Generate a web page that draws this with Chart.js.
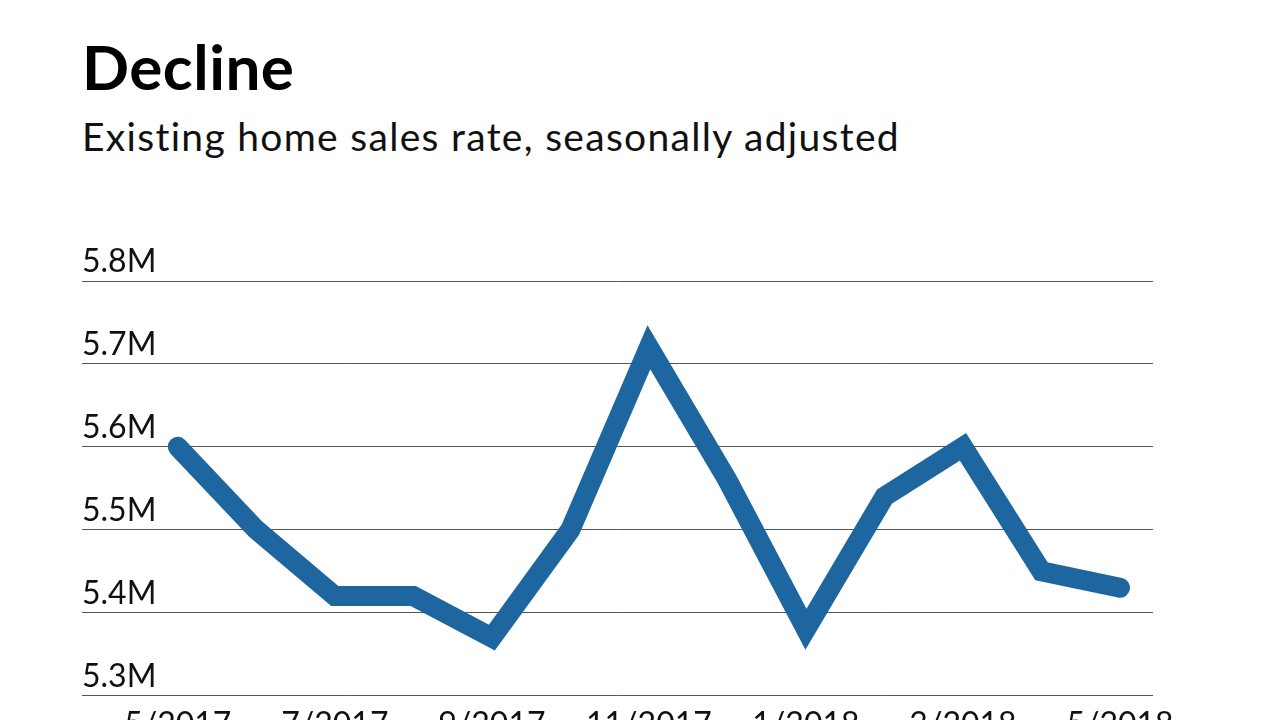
<!DOCTYPE html>
<html>
<head>
<meta charset="utf-8">
<script src="https://cdn.jsdelivr.net/npm/chart.js@4/dist/chart.umd.min.js"></script>
<style>
  html, body { margin: 0; padding: 0; background: #fff; overflow: hidden; }
  #wrap { position: relative; width: 1280px; height: 720px; overflow: hidden; }
  .title { position: absolute; left: 82px; top: 35px; font: bold 62px Lato, sans-serif; line-height: 62px; color: #000; letter-spacing: 0.5px; }
  .sub { position: absolute; left: 82px; top: 117px; font: 39px Lato, sans-serif; line-height: 39px; color: #111; white-space: nowrap; letter-spacing: 1.3px; }
  canvas { position: absolute; left: 0; top: 0; }
</style>
</head>
<body>
<div id="wrap">
  <div class="title">Decline</div>
  <div class="sub">Existing home sales rate, seasonally adjusted</div>
  <canvas id="chart" width="1280" height="760"></canvas>
</div>
<script>
// months shown, 5/2017 .. 5/2018
const months = ['5/2017', '6/2017', '7/2017', '8/2017', '9/2017', '10/2017', '11/2017',
                '12/2017', '1/2018', '2/2018', '3/2018', '4/2018', '5/2018'];
// sales rate in millions
const salesRate = [5.60, 5.50, 5.42, 5.42, 5.37, 5.50, 5.72, 5.56, 5.38, 5.54, 5.60, 5.45, 5.43];
// which months get a label on the x axis
const labelledMonths = [0, 2, 4, 6, 8, 10, 12];

const points = salesRate.map((v, i) => ({ x: i, y: v }));

const ctx = document.getElementById('chart').getContext('2d');
const myChart = new Chart(ctx, {
    type: 'line',
    data: {
        datasets: [{
            data: points,
            borderColor: '#1d669f',
            borderWidth: 20,
            borderCapStyle: 'round',
            borderJoinStyle: 'miter',
            pointRadius: 0,
            tension: 0,
            clip: false
        }]
    },
    options: {
        responsive: false,
        animation: false,
        layout: { padding: { left: 82, right: 127, top: 281, bottom: 6 } },
        plugins: {
            legend: { display: false },
            tooltip: { enabled: false }
        },
        scales: {
            x: {
                type: 'linear',
                min: -1.22,
                max: 12.42,
                afterBuildTicks: (axis) => {
                    axis.ticks = labelledMonths.map(i => ({ value: i }));
                },
                grid: { display: false, drawTicks: false },
                border: { display: false },
                ticks: {
                    color: '#111',
                    font: { family: 'Lato', size: 32 },
                    padding: 10,
                    maxRotation: 0,
                    autoSkip: false,
                    callback: (value) => months[value]
                }
            },
            y: {
                min: 5.3,
                max: 5.8,
                grid: { color: '#555', lineWidth: 1, drawTicks: false },
                border: { display: false },
                ticks: {
                    stepSize: 0.1,
                    mirror: true,
                    padding: 0,
                    labelOffset: -19,
                    color: '#111',
                    font: { family: 'Lato', size: 32 },
                    callback: (value) => value.toFixed(1) + 'M'
                }
            }
        }
    }
});
</script>
</body>
</html>
